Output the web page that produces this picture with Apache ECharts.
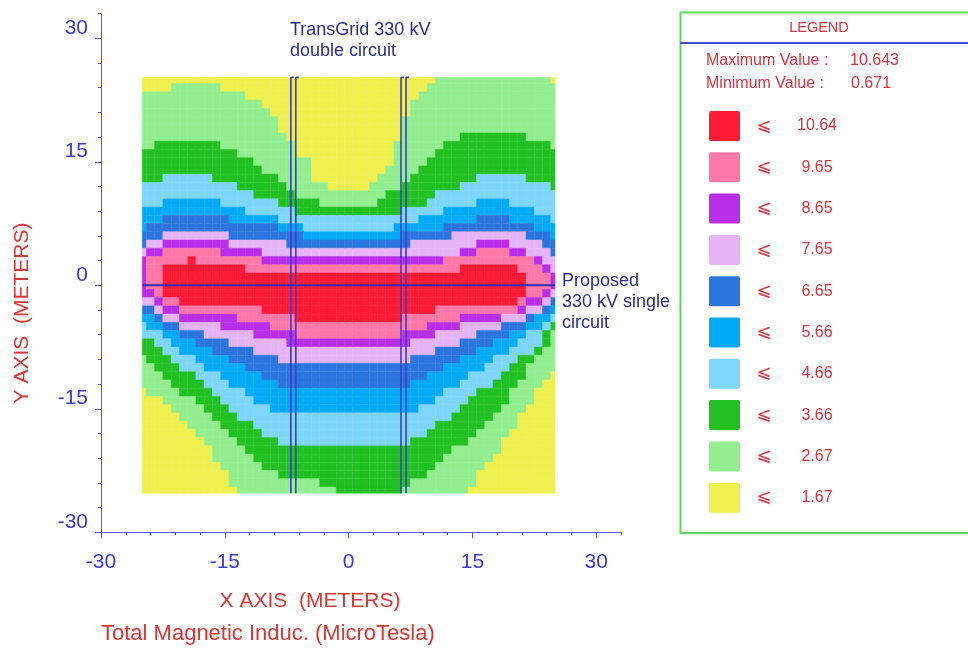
<!DOCTYPE html>
<html>
<head>
<meta charset="utf-8">
<script src="https://cdn.jsdelivr.net/npm/echarts@6/dist/echarts.min.js"></script>
<style>
html, body { margin: 0; padding: 0; background: #ffffff; }
#chart { width: 968px; height: 648px; }
</style>
</head>
<body>
<div id="chart"></div>
<script>
// Sample grid: 51 x 51 points, 1 m apart, x = -25..25 m, y = 25..-25 m.
const gridX = [];
const gridY = [];
for (let i = 0; i <= 50; i++) { gridX.push(-25 + i); gridY.push(25 - i); }

// Contour bands, lowest (index 0) to highest (index 9).
const bandColors = ['#eff050', '#93ee90', '#22c022', '#7fd6fb', '#00aaf4',
                    '#2d75de', '#e6b4f6', '#b92ee8', '#ff78a8', '#ff1a35'];
const bandLimits = ['1.67', '2.67', '3.66', '4.66', '5.66', '6.65', '7.65', '8.65', '9.65', '10.64'];
const maxValue = '10.643';
const minValue = '0.671';

// For each column (x = -25..25), the first row (row 0 = y 25 m) where the field
// reaches band k (k = 1..9). 99 = band not reached in that column.
const top1 = [2,2,2,2,1,1,1,1,1,1,2,2,2,3,3,4,5,7,8,10,10,13,13,14,14,14,14,14,13,12,11,8,5,3,2,1,0,0,0,0,0,0,0,0,0,0,0,0,0,0,1];
const top2 = [9,9,8,8,8,8,8,8,8,8,9,9,10,10,11,12,12,13,14,15,15,15,16,16,16,16,16,16,16,15,14,14,13,12,11,10,9,8,8,7,7,7,7,7,7,7,7,8,8,8,9];
const top3 = [13,13,13,12,12,12,12,12,12,13,13,13,14,14,15,15,15,16,16,17,17,17,17,17,17,17,17,17,17,17,17,17,16,16,16,15,14,14,14,13,13,12,12,12,12,12,12,13,13,13,14];
const top4 = [16,16,16,15,15,15,15,15,15,15,16,16,16,17,17,17,17,18,18,18,19,19,19,19,19,19,19,19,19,19,19,18,18,18,17,17,17,16,16,16,16,15,15,15,15,16,16,16,17,17,18];
const top5 = [19,18,18,17,17,17,17,17,17,17,17,18,18,18,18,18,18,19,19,19,20,20,20,20,20,20,20,20,20,20,20,20,19,19,19,19,19,18,18,18,18,17,17,17,17,18,18,18,19,19,20];
const top6 = [21,20,20,19,19,19,19,19,19,19,19,20,20,20,20,20,20,20,21,21,21,21,21,21,21,21,21,21,21,21,21,21,21,20,20,20,20,20,19,19,19,19,19,19,19,19,19,20,20,21,22];
const top7 = [22,21,21,20,20,20,20,20,20,20,20,21,21,21,21,22,22,22,22,22,22,22,22,22,22,22,22,22,22,22,22,22,22,22,22,22,22,22,22,21,21,20,20,20,20,21,21,22,22,23,24];
const top8 = [99,22,22,21,21,21,21,21,21,21,22,22,22,22,22,23,23,23,23,23,23,23,23,23,23,23,23,23,23,23,23,23,23,23,23,23,23,22,22,22,22,21,21,21,21,22,22,22,23,24,99];
const top9 = [99,99,99,23,23,23,22,23,23,23,23,23,23,24,24,24,24,24,24,24,24,24,24,24,24,24,24,24,24,24,24,24,24,24,24,24,24,24,24,23,23,23,23,23,23,23,24,99,99,99,99];

// For each column, the last row where the field is still in band k or above.
// -1 = band not reached in that column.
const bottom1 = [37,38,38,39,40,41,42,43,44,46,47,49,50,50,50,50,50,50,50,50,50,50,50,50,50,50,50,50,50,50,50,50,50,50,50,50,50,50,50,50,49,47,46,45,43,42,40,39,37,36,35];
const bottom2 = [33,34,35,36,37,38,38,39,40,41,42,43,44,45,46,47,47,48,48,48,48,48,49,49,50,50,50,50,50,50,50,50,49,48,48,47,46,45,44,44,43,42,41,40,39,37,36,34,33,32,30];
const bottom3 = [31,31,32,33,34,35,35,36,37,38,39,40,41,41,42,43,43,44,44,44,44,44,44,44,44,44,44,44,44,44,44,44,44,43,43,42,41,41,40,39,38,37,37,36,35,34,33,33,32,30,29];
const bottom4 = [29,30,30,31,32,33,33,34,35,35,36,37,37,38,39,39,40,40,40,40,40,40,40,40,40,40,40,40,40,40,40,40,40,40,39,39,38,37,37,36,35,35,34,33,33,32,31,30,30,29,28];
const bottom5 = [28,28,29,30,30,31,31,32,32,33,33,34,34,35,35,36,36,37,37,37,37,37,37,37,37,37,37,37,37,37,37,37,37,36,36,35,35,34,34,33,33,32,32,31,31,30,30,29,28,28,27];
const bottom6 = [27,27,28,29,29,30,30,30,31,31,31,32,32,32,33,33,33,34,34,34,34,34,34,34,34,34,34,34,34,34,34,34,34,33,33,33,32,32,32,31,31,30,30,30,29,29,29,28,28,27,26];
const bottom7 = [26,26,27,28,28,29,29,29,29,29,30,30,30,30,31,31,31,31,32,32,32,32,32,32,32,32,32,32,32,32,32,32,32,31,31,31,30,30,30,29,29,29,29,29,28,28,28,27,27,26,25];
const bottom8 = [-1,25,26,27,27,28,28,28,28,28,28,28,29,29,29,29,30,30,30,31,31,31,31,31,31,31,31,31,31,31,31,31,30,30,30,29,29,29,29,28,28,28,28,28,28,28,27,26,26,25,-1];
const bottom9 = [-1,-1,-1,26,26,27,27,27,27,27,27,27,27,27,27,28,28,28,28,29,29,29,29,29,29,29,29,29,29,29,29,29,28,28,28,28,27,27,27,27,27,27,27,27,27,27,26,-1,-1,-1,-1];

// Overhead circuits (metres).
const doubleCircuitX = [-7.0, -6.4, 6.35, 6.95];
const singleCircuitY = 0;
const fieldHalfWidth = 25;
const fieldHalfHeight = 25.25;

// Axis ticks.
const majorTicks = [-30, -15, 0, 15, 30];

const bandTop = [top1, top2, top3, top4, top5, top6, top7, top8, top9];
const bandBottom = [bottom1, bottom2, bottom3, bottom4, bottom5, bottom6, bottom7, bottom8, bottom9];

const cells = [];
for (let c = 0; c < gridX.length; c++) {
  for (let r = 0; r < gridY.length; r++) {
    let level = 0;
    for (let k = 1; k <= 9; k++) {
      if (bandTop[k - 1][c] <= r && r <= bandBottom[k - 1][c]) level = k;
    }
    cells.push([gridX[c], gridY[r], level]);
  }
}

// One cell per grid point, clipped to the computed field area.
function renderCell(params, api) {
  const x = api.value(0), y = api.value(1);
  const top = y === gridY[0] ? fieldHalfHeight : y + 0.5;
  const bottom = y === gridY[gridY.length - 1] ? -fieldHalfHeight : y - 0.5;
  const p0 = api.coord([Math.max(x - 0.5, -fieldHalfWidth), top]);
  const p1 = api.coord([Math.min(x + 0.5, fieldHalfWidth), bottom]);
  const color = api.visual('color');
  return {
    type: 'rect',
    shape: { x: p0[0], y: p0[1], width: p1[0] - p0[0], height: p1[1] - p0[1] },
    style: { fill: color, stroke: color, lineWidth: 0.5 }
  };
}

const FONT = 'Liberation Sans, Arial, Helvetica, sans-serif';
const axisBlue = '#5858e0';
const labelBlue = '#3c3cd2';
const titleRed = '#dc3535';
const legendRed = '#d9333f';
const navy = '#2b2b8e';

const circuitSeries = doubleCircuitX.map(function (x) {
  return {
    type: 'line', xAxisIndex: 0, yAxisIndex: 0, silent: true, symbol: 'none', z: 5,
    lineStyle: { color: '#3b3bcf', width: 1.6 },
    data: [[x, -fieldHalfHeight], [x, fieldHalfHeight], [x + 0.35, fieldHalfHeight]]
  };
});
circuitSeries.push({
  type: 'line', xAxisIndex: 0, yAxisIndex: 0, silent: true, symbol: 'none', z: 6,
  lineStyle: { color: '#2f2fb0', width: 2 },
  data: [[-fieldHalfWidth, singleCircuitY], [fieldHalfWidth, singleCircuitY]]
});

// Legend panel
const legendItems = [];
const legendTop = 111, legendStep = 41.3;
for (let i = 0; i < bandColors.length; i++) {
  const band = bandColors.length - 1 - i;
  const yMid = legendTop + 15 + legendStep * i;
  legendItems.push({
    type: 'rect', shape: { x: 709, y: legendTop + legendStep * i, width: 31, height: 30, r: 2 },
    style: { fill: bandColors[band] }
  });
  legendItems.push({
    type: 'text', x: 764, y: yMid,
    style: { text: '\u2A7D', fill: legendRed, font: '18px DejaVu Sans', textAlign: 'center', textVerticalAlign: 'middle' }
  });
  legendItems.push({
    type: 'text', x: 817, y: yMid,
    style: { text: bandLimits[band], fill: legendRed, font: '16px ' + FONT, textAlign: 'center', textVerticalAlign: 'middle' }
  });
}

function label(text, x, y, size, color, align, rotation) {
  return {
    type: 'text', x: x, y: y, rotation: rotation || 0,
    style: { text: text, fill: color, font: size + 'px ' + FONT, textAlign: align || 'left', textVerticalAlign: 'middle' }
  };
}

const graphics = [
  { type: 'rect', shape: { x: 680.5, y: 12.5, width: 300, height: 520.5 },
    style: { fill: 'none', stroke: '#5fd85f', lineWidth: 2 } },
  { type: 'line', shape: { x1: 680, y1: 43, x2: 968, y2: 43 },
    style: { stroke: '#4a4ad8', lineWidth: 2 } },
  label('LEGEND', 819, 28, 14.5, legendRed, 'center'),
  label('Maximum Value :', 706, 61, 16, legendRed),
  label(maxValue, 850, 61, 16, legendRed),
  label('Minimum Value :', 706, 84, 16, legendRed),
  label(minValue, 851, 84, 16, legendRed),
  label('TransGrid 330 kV', 290, 30, 18, navy),
  label('double circuit', 290, 51, 18, navy),
  label('Proposed', 562, 281, 18, navy),
  label('330 kV single', 562, 302, 18, navy),
  label('circuit', 562, 323, 18, navy),
  label('X AXIS  (METERS)', 310, 601, 21, titleRed, 'center'),
  label('Y AXIS  (METERS)', 22, 313, 21, titleRed, 'center', Math.PI / 2),
  label('Total Magnetic Induc. (MicroTesla)', 101, 634, 22, titleRed)
].concat(legendItems);

function baseAxis() {
  return {
    type: 'value', min: -30, max: 33, interval: 3,
    axisLine: { onZero: false, lineStyle: { color: axisBlue, width: 1 } },
    axisTick: { length: 3, lineStyle: { color: axisBlue } },
    axisLabel: { show: false },
    splitLine: { show: false }
  };
}
function majorAxis(isY) {
  return {
    type: 'value', min: -30, max: 33, interval: 15,
    position: isY ? 'left' : 'bottom',
    axisLine: { show: false, onZero: false },
    axisTick: { length: 6, customValues: majorTicks, lineStyle: { color: axisBlue } },
    axisLabel: {
      customValues: majorTicks, color: labelBlue, fontSize: 21, fontFamily: FONT,
      margin: isY ? 13 : 19,
      verticalAlign: isY ? 'bottom' : 'top',
      formatter: function (v) { return v % 15 === 0 ? String(v) : ''; }
    },
    splitLine: { show: false }
  };
}

const chart = echarts.init(document.getElementById('chart'), null, { renderer: 'canvas' });
chart.setOption({
  animation: false,
  backgroundColor: '#ffffff',
  grid: { left: 101, top: 13.6, width: 520, height: 518.7, containLabel: false },
  xAxis: [baseAxis(), majorAxis(false)],
  yAxis: [baseAxis(), majorAxis(true)],
  visualMap: {
    type: 'piecewise', show: false, dimension: 2, seriesIndex: 0,
    pieces: bandColors.map(function (c, i) { return { value: i, color: c }; })
  },
  series: [{
    type: 'custom', xAxisIndex: 0, yAxisIndex: 0, silent: true,
    dimensions: ['x', 'y', 'band'],
    encode: { x: 0, y: 1 },
    renderItem: renderCell,
    data: cells,
    z: 2
  }].concat(circuitSeries),
  graphic: graphics
});
</script>
</body>
</html>
